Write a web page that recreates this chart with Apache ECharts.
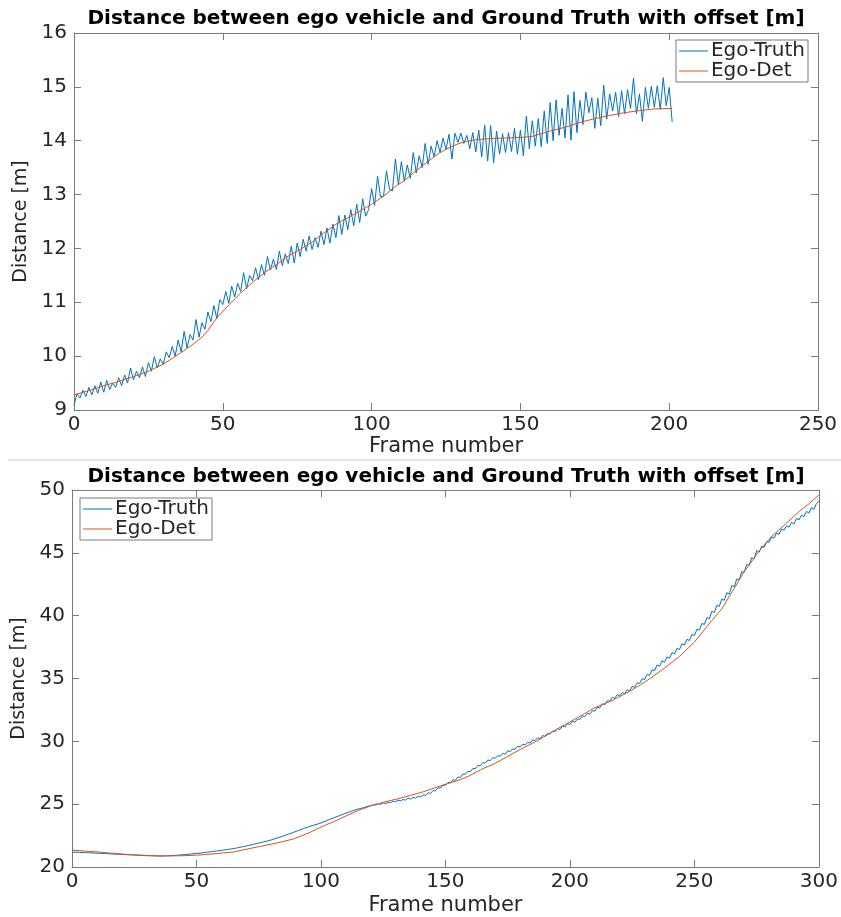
<!DOCTYPE html>
<html>
<head>
<meta charset="utf-8">
<script src="https://cdn.jsdelivr.net/npm/echarts@6/dist/echarts.min.js"></script>
<style>
  html, body { margin: 0; padding: 0; background: #ffffff; }
  #chart { width: 841px; height: 917px; }
</style>
</head>
<body>
<div id="chart"></div>
<script>
// Sequence 1: distance per frame (frames 0..201)
const truth1 = [
  9.09, 9.30, 9.22, 9.37, 9.25, 9.42, 9.28, 9.45, 9.31, 9.52,
  9.33, 9.55, 9.38, 9.50, 9.42, 9.60, 9.45, 9.65, 9.50, 9.78,
  9.56, 9.72, 9.60, 9.80, 9.62, 9.88, 9.72, 9.99, 9.78, 9.95,
  9.85, 10.08, 9.97, 10.18, 10.00, 10.30, 10.08, 10.46, 10.15, 10.40,
  10.30, 10.68, 10.35, 10.62, 10.50, 10.82, 10.64, 10.94, 10.70, 11.05,
  10.96, 11.20, 10.98, 11.30, 11.10, 11.35, 11.20, 11.55, 11.25, 11.50,
  11.40, 11.64, 11.42, 11.70, 11.50, 11.85, 11.60, 11.80, 11.61, 11.95,
  11.68, 11.90, 11.72, 12.04, 11.73, 12.10, 11.85, 12.17, 11.95, 12.23,
  11.98, 12.20, 12.02, 12.32, 12.07, 12.38, 12.10, 12.45, 12.20, 12.61,
  12.26, 12.62, 12.35, 12.72, 12.42, 12.82, 12.48, 12.92, 12.60, 12.72,
  13.11, 12.80, 13.34, 12.96, 12.97, 13.44, 13.10, 13.07, 13.66, 13.18,
  13.61, 13.25, 13.55, 13.30, 13.78, 13.40, 13.72, 13.50, 13.95, 13.56,
  13.90, 13.70, 14.00, 13.78, 14.05, 13.84, 14.12, 13.66, 14.14, 13.97,
  14.14, 13.95, 14.10, 13.85, 14.15, 13.79, 14.20, 13.70, 14.29, 13.62,
  14.28, 13.59, 14.18, 13.75, 14.13, 13.78, 14.15, 13.80, 14.23, 13.75,
  14.20, 13.72, 14.46, 13.85, 14.37, 13.90, 14.41, 13.89, 14.55, 13.95,
  14.71, 14.00, 14.76, 14.10, 14.60, 14.05, 14.85, 14.01, 14.91, 14.15,
  14.75, 14.30, 14.90, 14.52, 14.80, 14.23, 14.79, 14.28, 15.03, 14.40,
  14.87, 14.55, 14.90, 14.45, 14.93, 14.50, 14.95, 14.60, 15.16, 14.50,
  14.87, 14.36, 14.99, 14.60, 15.01, 14.62, 15.02, 14.58, 15.17, 14.65,
  14.99, 14.35
];
const detFrames1 = [0, 5, 10, 15, 20, 25, 30, 35, 40, 43, 45, 48, 52, 56, 60, 64, 68, 72, 76, 80,
  84, 88, 92, 95, 100, 104, 108, 111, 114, 117, 120, 123, 126, 129, 132, 135, 140, 145, 150, 154,
  157, 160, 165, 170, 175, 180, 185, 190, 195, 201];
const det1 = [9.28, 9.36, 9.45, 9.53, 9.62, 9.72, 9.85, 10.03, 10.22, 10.35, 10.48, 10.71, 10.95, 11.17, 11.37, 11.55, 11.70, 11.86, 11.98, 12.12,
  12.29, 12.45, 12.57, 12.66, 12.82, 12.97, 13.15, 13.26, 13.40, 13.53, 13.66, 13.78, 13.87, 13.94, 13.99, 14.02, 14.04, 14.05, 14.06, 14.08,
  14.13, 14.18, 14.25, 14.34, 14.41, 14.47, 14.52, 14.56, 14.59, 14.60];

// Sequence 2: distance per frame (frames 0..300)
const truth2 = [
  21.18, 21.18, 21.17, 21.17, 21.16, 21.15, 21.14, 21.13, 21.12, 21.11,
  21.10, 21.09, 21.08, 21.07, 21.06, 21.05, 21.04, 21.03, 21.02, 21.01,
  21.00, 20.99, 20.98, 20.97, 20.96, 20.95, 20.94, 20.93, 20.92, 20.91,
  20.90, 20.90, 20.89, 20.89, 20.88, 20.88, 20.88, 20.89, 20.89, 20.90,
  20.90, 20.92, 20.93, 20.95, 20.97, 20.98, 21.00, 21.02, 21.04, 21.06,
  21.08, 21.10, 21.12, 21.15, 21.17, 21.20, 21.22, 21.25, 21.27, 21.30,
  21.32, 21.35, 21.38, 21.41, 21.44, 21.47, 21.51, 21.55, 21.59, 21.63,
  21.67, 21.72, 21.76, 21.81, 21.85, 21.90, 21.95, 22.00, 22.05, 22.10,
  22.15, 22.22, 22.28, 22.35, 22.41, 22.48, 22.55, 22.62, 22.69, 22.76,
  22.83, 22.91, 22.98, 23.06, 23.13, 23.20, 23.26, 23.32, 23.38, 23.44,
  23.50, 23.59, 23.66, 23.75, 23.82, 23.90, 23.98, 24.05, 24.14, 24.20,
  24.28, 24.35, 24.42, 24.50, 24.55, 24.62, 24.66, 24.72, 24.78, 24.84,
  24.88, 24.96, 24.92, 25.02, 24.98, 25.10, 25.05, 25.16, 25.12, 25.24,
  25.20, 25.32, 25.26, 25.38, 25.32, 25.48, 25.40, 25.54, 25.48, 25.62,
  25.58, 25.74, 25.70, 25.90, 25.86, 26.08, 26.05, 26.30, 26.28, 26.52,
  26.50, 26.72, 26.70, 26.94, 26.90, 27.17, 27.12, 27.40, 27.38, 27.62,
  27.58, 27.84, 27.82, 28.08, 28.05, 28.30, 28.28, 28.52, 28.46, 28.70,
  28.66, 28.86, 28.82, 29.04, 28.98, 29.25, 29.18, 29.40, 29.36, 29.60,
  29.56, 29.78, 29.72, 29.92, 29.86, 30.12, 30.06, 30.28, 30.22, 30.46,
  30.40, 30.64, 30.58, 30.82, 30.76, 31.02, 30.94, 31.20, 31.14, 31.40,
  31.34, 31.60, 31.52, 31.78, 31.74, 32.02, 31.96, 32.22, 32.16, 32.44,
  32.40, 32.72, 32.66, 32.98, 32.92, 33.24, 33.18, 33.50, 33.42, 33.70,
  33.62, 33.88, 33.80, 34.10, 34.02, 34.36, 34.30, 34.66, 34.60, 34.98,
  34.92, 35.32, 35.26, 35.70, 35.62, 36.08, 35.98, 36.40, 36.30, 36.72,
  36.62, 37.05, 36.96, 37.40, 37.30, 37.76, 37.66, 38.12, 38.02, 38.50,
  38.42, 38.92, 38.86, 39.38, 39.30, 39.85, 39.76, 40.35, 40.26, 40.82,
  40.74, 41.32, 41.22, 41.82, 41.72, 42.40, 42.30, 42.92, 42.84, 43.50,
  43.46, 44.08, 44.00, 44.62, 44.52, 45.18, 45.06, 45.52, 45.44, 45.88,
  45.84, 46.26, 46.18, 46.58, 46.48, 46.90, 46.80, 47.16, 47.04, 47.42,
  47.30, 47.74, 47.62, 48.00, 47.88, 48.30, 48.16, 48.60, 48.46, 48.92,
  49.10
];
const detFrames2 = [0, 10, 22, 35, 45, 50, 57, 65, 75, 82, 89, 95, 100, 105, 110, 115, 121, 126, 131, 136,
  141, 145, 150, 156, 160, 164, 170, 175, 180, 186, 190, 195, 200, 205, 210, 217, 224, 230, 237, 244,
  250, 257, 261, 265, 270, 276, 281, 287, 292, 296, 300];
const det2 = [21.34, 21.20, 21.00, 20.87, 20.90, 20.94, 21.05, 21.20, 21.62, 21.90, 22.23, 22.70, 23.18, 23.60, 24.06, 24.50, 24.93, 25.20, 25.43, 25.70,
  25.98, 26.25, 26.58, 26.95, 27.30, 27.73, 28.25, 28.80, 29.35, 29.95, 30.40, 31.00, 31.55, 32.10, 32.68, 33.25, 33.98, 34.70, 35.69, 36.75,
  37.90, 39.62, 40.54, 41.85, 43.50, 45.14, 46.30, 47.37, 48.28, 48.90, 49.60];

const xTicks1 = { min: 0, max: 250, interval: 50 };
const yTicks1 = { min: 9, max: 16, interval: 1 };
const xTicks2 = { min: 0, max: 300, interval: 50 };
const yTicks2 = { min: 20, max: 50, interval: 5 };

const titleText = 'Distance between ego vehicle and Ground Truth with offset [m]';
const xName = 'Frame number';
const yName = 'Distance [m]';
const names = ['Ego-Truth', 'Ego-Det'];
const colors = ['#0072BD', '#D95319'];

const FONT = '"DejaVu Sans", sans-serif';
const AX = '#262626';
const LINE = '#7a7a7a';

function pairs(xs, ys) { return ys.map((v, i) => [xs[i], v]); }
function idxPairs(ys) { return ys.map((v, i) => [i, v]); }

function mainX(grid, t, nameGap) {
  return {
    type: 'value', gridIndex: grid, position: 'bottom',
    min: t.min, max: t.max, interval: t.interval,
    name: xName, nameLocation: 'middle', nameGap: nameGap,
    nameTextStyle: { fontFamily: FONT, fontSize: 21, color: AX },
    axisLine: { show: true, onZero: false, lineStyle: { color: LINE, width: 1 } },
    axisTick: { show: true, inside: true, length: 7, lineStyle: { color: LINE } },
    axisLabel: { fontFamily: FONT, fontSize: 20, color: AX, margin: 5 },
    splitLine: { show: false }
  };
}
function boxX(grid, t) {
  return {
    type: 'value', gridIndex: grid, position: 'top',
    min: t.min, max: t.max, interval: t.interval,
    axisLine: { show: true, onZero: false, lineStyle: { color: LINE, width: 1 } },
    axisTick: { show: true, inside: true, length: 7, lineStyle: { color: LINE } },
    axisLabel: { show: false }, splitLine: { show: false }
  };
}
function mainY(grid, t, nameGap) {
  return {
    type: 'value', gridIndex: grid, position: 'left',
    min: t.min, max: t.max, interval: t.interval,
    name: yName, nameLocation: 'middle', nameGap: nameGap,
    nameTextStyle: { fontFamily: FONT, fontSize: 19, color: AX },
    axisLine: { show: true, onZero: false, lineStyle: { color: LINE, width: 1 } },
    axisTick: { show: true, inside: true, length: 7, lineStyle: { color: LINE } },
    axisLabel: { fontFamily: FONT, fontSize: 20, color: AX, margin: 7 },
    splitLine: { show: false }
  };
}
function boxY(grid, t) {
  return {
    type: 'value', gridIndex: grid, position: 'right',
    min: t.min, max: t.max, interval: t.interval,
    axisLine: { show: true, onZero: false, lineStyle: { color: LINE, width: 1 } },
    axisTick: { show: true, inside: true, length: 7, lineStyle: { color: LINE } },
    axisLabel: { show: false }, splitLine: { show: false }
  };
}
function lineSeries(name, color, data, xi, yi, z) {
  return {
    name: name, type: 'line', data: data, xAxisIndex: xi, yAxisIndex: yi,
    showSymbol: false, symbol: 'none', animation: false, z: z,
    lineStyle: { color: color, width: 1 }, itemStyle: { color: color }
  };
}
function legendBox(pos) {
  return Object.assign({
    data: names, orient: 'vertical', icon: 'rect', itemWidth: 29, itemHeight: 1,
    itemGap: 0, padding: [1, 3, 1, 3],
    borderColor: LINE, borderWidth: 1, backgroundColor: '#ffffff',
    textStyle: { fontFamily: FONT, fontSize: 20, color: AX, padding: [0, 0, 0, -2] },
    selectedMode: false
  }, pos);
}
function titleText_(y) {
  return {
    type: 'text', x: 446, y: y,
    style: { text: titleText, font: 'bold 20px ' + FONT, fill: '#000', textAlign: 'center', textVerticalAlign: 'middle' }
  };
}

const chart = echarts.init(document.getElementById('chart'), null, { renderer: 'canvas' });
chart.setOption({
  animation: false,
  backgroundColor: '#ffffff',
  grid: [
    { left: 74, top: 33, width: 744, height: 377 },
    { left: 72, top: 490, width: 748, height: 381 }
  ],
  xAxis: [mainX(0, xTicks1, 26), boxX(0, xTicks1), mainX(1, xTicks2, 28), boxX(1, xTicks2)],
  yAxis: [mainY(0, yTicks1, 33), boxY(0, yTicks1), mainY(1, yTicks2, 34), boxY(1, yTicks2)],
  legend: [
    legendBox({ right: 33, top: 40 }),
    legendBox({ left: 80, top: 498 })
  ],
  graphic: [
    titleText_(19),
    titleText_(477),
    { type: 'line', shape: { x1: 8, y1: 460, x2: 841, y2: 460 }, style: { stroke: '#cfcfcf', lineWidth: 1 } }
  ],
  series: [
    lineSeries(names[0], colors[0], idxPairs(truth1), 0, 0, 2),
    lineSeries(names[1], colors[1], pairs(detFrames1, det1), 0, 0, 3),
    lineSeries(names[0], colors[0], idxPairs(truth2), 2, 2, 2),
    lineSeries(names[1], colors[1], pairs(detFrames2, det2), 2, 2, 3)
  ]
});
</script>
</body>
</html>
